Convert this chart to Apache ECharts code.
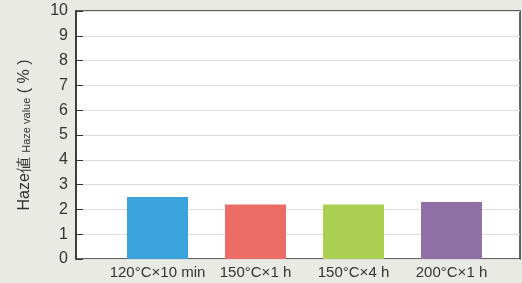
<!DOCTYPE html>
<html>
<head>
<meta charset="utf-8">
<script src="https://cdn.jsdelivr.net/npm/echarts@6/dist/echarts.min.js"></script>
<style>
html,body{margin:0;padding:0;background:#eaeae5;}
#main{width:522px;height:283px;}
</style>
</head>
<body>
<div id="main"></div>
<script>
// 処理条件とHaze値
const categories = ['120°C×10 min', '150°C×1 h', '150°C×4 h', '200°C×1 h'];
const hazeValues = [2.5, 2.2, 2.2, 2.3];
const barColors = ['#3aa3dc', '#ec6c66', '#acd052', '#9170a6'];
const yTicks = [0, 10, 1]; // min, max, interval

const font = '"Liberation Sans Narrow", "Liberation Sans", Arial, sans-serif';
const chart = echarts.init(document.getElementById('main'));

chart.setOption({
  backgroundColor: '#eaeae5',
  animation: false,
  grid: [
    { left: 76, right: 2, top: 11, bottom: 24, show: true, backgroundColor: '#fff', borderColor: '#333', borderWidth: 1.5 },
    { left: 108.5, width: 392, top: 11, bottom: 24 }
  ],
  xAxis: [
    { gridIndex: 0, type: 'category', data: [''], show: false },
    {
      gridIndex: 1, type: 'category', data: categories,
      axisLine: { show: false }, axisTick: { show: false },
      axisLabel: { interval: 0, color: '#333', fontSize: 15, fontFamily: font, margin: 6 }
    }
  ],
  yAxis: [
    {
      gridIndex: 0, type: 'value', min: yTicks[0], max: yTicks[1], interval: yTicks[2],
      name: '{a|Haze値 }{b|Haze value}{a| ( % )}',
      nameLocation: 'middle', nameRotate: 90, nameGap: 43,
      nameTextStyle: {
        color: '#333',
        rich: {
          a: { fontSize: 16, fontFamily: font, color: '#333', lineHeight: 18, verticalAlign: 'bottom' },
          b: { fontSize: 11, fontFamily: font, color: '#333', lineHeight: 18, verticalAlign: 'bottom', padding: [0, 0, 1, 0] }
        }
      },
      axisLine: { show: true, lineStyle: { color: '#333', width: 1.5 } },
      axisTick: { show: true, inside: true, length: 7, lineStyle: { color: '#333' } },
      axisLabel: { color: '#333', fontSize: 16, fontFamily: font, margin: 8 },
      splitLine: { show: true, lineStyle: { color: '#dddddd', width: 1 } }
    },
    { gridIndex: 1, type: 'value', min: yTicks[0], max: yTicks[1], show: false, splitLine: { show: false } }
  ],
  series: [{
    type: 'bar',
    xAxisIndex: 1, yAxisIndex: 1,
    barWidth: 61,
    data: hazeValues.map((v, i) => ({ value: v, itemStyle: { color: barColors[i] } }))
  }]
});
</script>
</body>
</html>
